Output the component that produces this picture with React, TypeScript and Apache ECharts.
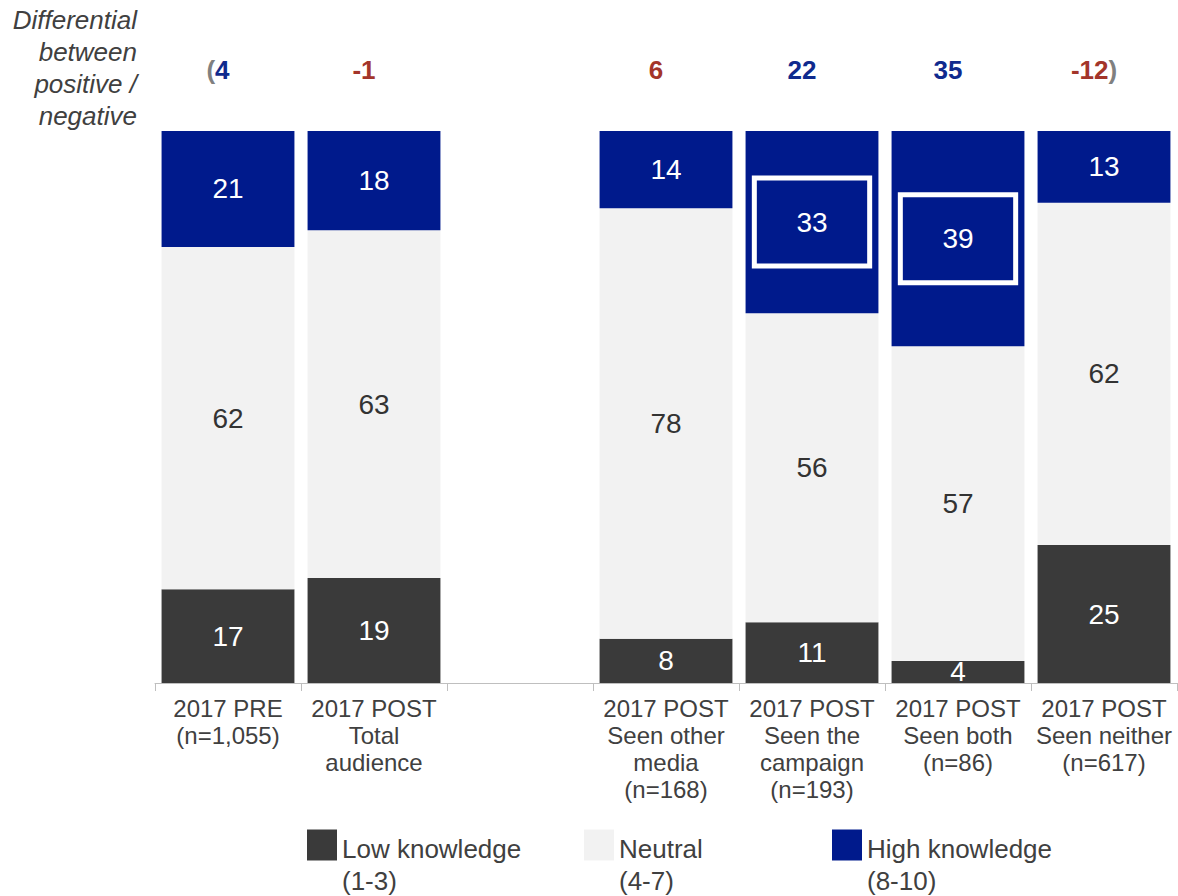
import React, { useEffect, useRef } from "react";
import * as echarts from "echarts";

const categories = [
  "2017 PRE\n(n=1,055)",
  "2017 POST\nTotal\naudience",
  "",
  "2017 POST\nSeen other\nmedia\n(n=168)",
  "2017 POST\nSeen the\ncampaign\n(n=193)",
  "2017 POST\nSeen both\n(n=86)",
  "2017 POST\nSeen neither\n(n=617)",
];
const lowValues = [17, 19, null, 8, 11, 4, 25];
const neutralValues = [62, 63, null, 78, 56, 57, 62];
const highValues = [21, 18, null, 14, 33, 39, 13];
const differential = [4, -1, null, 6, 22, 35, -12];
const differentialTone = ["blue", "red", null, "red", "blue", "blue", "red"];
const highlightedCategories = [4, 5];
const seriesNames = ["Low knowledge\n(1-3)", "Neutral\n(4-7)", "High knowledge\n(8-10)"];

const FONT = "'Liberation Sans', Arial, Helvetica, sans-serif";
const C_LOW = "#3a3a3a";
const C_NEU = "#f2f2f2";
const C_HIGH = "#001a8c";
const C_BLUE = "#0f2a8e";
const C_RED = "#a3352a";
const C_GREY = "#808080";
const C_TEXT = "#404040";

export default function App() {
  const ref = useRef<HTMLDivElement>(null);
  useEffect(() => {
    document.body.style.margin = "0";
    const chart = echarts.init(ref.current!, null, { renderer: "svg" });

    const diffData = differential
      .map((v, i) => (v == null ? null : [i, 100, v]))
      .filter((d) => d != null) as number[][];
    const lastDiffIdx = diffData.length - 1;

    const boxData = highlightedCategories.map((i) => [
      i,
      (lowValues[i] as number) + (neutralValues[i] as number) + (highValues[i] as number) / 2,
    ]);

    const barLabel = (color: string) => ({
      show: true,
      position: "inside",
      color,
      fontSize: 28,
      fontFamily: FONT,
      formatter: "{c}",
    });

    const legendBase = (name: string, left: number) => ({
      data: [name],
      left,
      top: 808,
      padding: 0,
      orient: "horizontal",
      itemWidth: 30,
      itemHeight: 31,
      icon: "rect",
      selectedMode: false,
      formatter: (n: string) =>
        "{s| }\n" + n.split("\n").map((l) => `{a|${l}}`).join("\n"),
      textStyle: {
        color: C_TEXT,
        fontFamily: FONT,
        fontSize: 26,
        rich: {
          s: { fontSize: 10, lineHeight: 39 },
          a: { fontSize: 26, lineHeight: 32, color: C_TEXT, fontFamily: FONT },
        },
      },
    });

    chart.setOption({
      animation: false,
      grid: { left: 155, right: 1, top: 131, bottom: 213, containLabel: false },
      xAxis: {
        type: "category",
        data: categories,
        axisLine: { lineStyle: { color: "#bfbfbf", width: 1 } },
        axisTick: { show: true, length: 8, lineStyle: { color: "#bfbfbf", width: 1 } },
        axisLabel: {
          interval: 0,
          fontSize: 24,
          lineHeight: 27,
          color: C_TEXT,
          fontFamily: FONT,
          margin: 12,
        },
      },
      yAxis: { type: "value", min: 0, max: 100, show: false },
      legend: [
        legendBase(seriesNames[0], 307),
        legendBase(seriesNames[1], 584),
        legendBase(seriesNames[2], 832),
      ],
      graphic: [
        {
          type: "text",
          x: 137,
          y: 4,
          style: {
            text: "Differential\nbetween\npositive /\nnegative",
            align: "right",
            font: `italic 26px ${FONT}`,
            lineHeight: 32,
            fill: C_TEXT,
          },
        },
      ],
      series: [
        {
          name: seriesNames[0],
          type: "bar",
          stack: "k",
          barCategoryGap: "9%",
          data: lowValues,
          itemStyle: { color: C_LOW },
          label: barLabel("#ffffff"),
        },
        {
          name: seriesNames[1],
          type: "bar",
          stack: "k",
          barCategoryGap: "9%",
          data: neutralValues,
          itemStyle: { color: C_NEU },
          label: barLabel("#333333"),
        },
        {
          name: seriesNames[2],
          type: "bar",
          stack: "k",
          barCategoryGap: "9%",
          data: highValues,
          itemStyle: { color: C_HIGH },
          label: barLabel("#ffffff"),
        },
        {
          type: "custom",
          silent: true,
          z: 5,
          data: boxData,
          renderItem: (params: any, api: any) => {
            const p = api.coord([api.value(0), api.value(1)]);
            const w = api.size([1, 0])[0] * 0.79;
            return {
              type: "rect",
              shape: { x: p[0] - w / 2, y: p[1] - 44, width: w, height: 88 },
              style: { fill: "none", stroke: "#ffffff", lineWidth: 5 },
            };
          },
        },
        {
          type: "custom",
          silent: true,
          z: 5,
          data: diffData,
          renderItem: (params: any, api: any) => {
            const idx = api.value(0);
            const v = api.value(2);
            const p = api.coord([idx, api.value(1)]);
            const tone = differentialTone[idx] === "blue" ? "b" : "r";
            let text = `{${tone}|${v}}`;
            if (params.dataIndex === 0) text = `{p|(}` + text;
            if (params.dataIndex === lastDiffIdx) text = text + `{p|)}`;
            const base = { fontSize: 26, fontWeight: "bold", fontFamily: FONT };
            return {
              type: "text",
              x: p[0] - 10,
              y: p[1] - 61,
              style: {
                text,
                align: "center",
                verticalAlign: "middle",
                rich: {
                  b: { ...base, fill: C_BLUE, color: C_BLUE },
                  r: { ...base, fill: C_RED, color: C_RED },
                  p: { ...base, fill: C_GREY, color: C_GREY },
                },
              },
            };
          },
        },
      ],
    });
    return () => chart.dispose();
  }, []);
  return <div ref={ref} style={{ width: 1178, height: 896 }} />;
}
